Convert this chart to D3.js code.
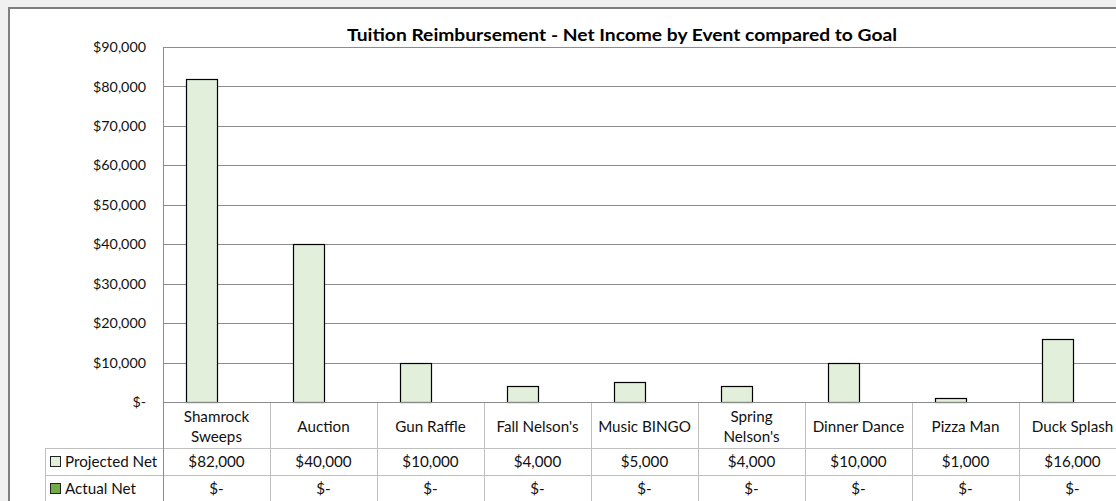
<!DOCTYPE html>
<html><head><meta charset="utf-8">
<script src="https://cdn.jsdelivr.net/npm/d3@7"></script>
<style>html,body{margin:0;padding:0;background:#f0f0f0;overflow:hidden}svg{display:block}</style>
</head><body>
<svg id="c" width="1116" height="501"></svg>
<script>
const title = "Tuition Reimbursement - Net Income by Event compared to Goal";
const categories = ["Shamrock Sweeps","Auction","Gun Raffle","Fall Nelson's","Music BINGO","Spring Nelson's","Dinner Dance","Pizza Man","Duck Splash"];
const categoryLines = [["Shamrock","Sweeps"],["Auction"],["Gun Raffle"],["Fall Nelson's"],["Music BINGO"],["Spring","Nelson's"],["Dinner Dance"],["Pizza Man"],["Duck Splash"]];
const seriesNames = ["Projected Net","Actual Net"];
const projectedNet = [82000,40000,10000,4000,5000,4000,10000,1000,16000];
const actualNet = [0,0,0,0,0,0,0,0,0];
const yTicks = [0,10000,20000,30000,40000,50000,60000,70000,80000,90000];
const colors = {"Projected Net":"#e2efda","Actual Net":"#70ad47"};

const font = "Lato, 'Open Sans', sans-serif";
const svg = d3.select("#c");
const fmt = v => v === 0 ? "$-" : "$" + d3.format(",")(v);

// chart area
svg.append("rect").attr("x",9).attr("y",8).attr("width",1300).attr("height",700)
  .attr("fill","#fff").attr("stroke","#7f7f7f").attr("stroke-width",2);

const L = 163, T = 47, B = 402, R = 1126;
const x = d3.scaleBand().domain(categories).range([L, R]).paddingInner(0).paddingOuter(0);
const xs = d3.scaleBand().domain(seriesNames).range([0, x.bandwidth()]).paddingInner(0).paddingOuter(0.75);
const y = d3.scaleLinear().domain([0, 90000]).range([B, T]);

// gridlines
svg.append("g").selectAll("line").data(yTicks.filter(d=>d>0)).join("line")
  .attr("x1",L).attr("x2",R).attr("y1",d=>Math.round(y(d))+0.5).attr("y2",d=>Math.round(y(d))+0.5)
  .attr("stroke","#8c8c8c").attr("stroke-width",1);

// y axis labels
const yAxis = d3.axisLeft(y).tickValues(yTicks).tickFormat(fmt).tickSize(0).tickPadding(17);
const ga = svg.append("g").attr("transform",`translate(${L},0)`).call(yAxis);
ga.select(".domain").remove();
ga.selectAll("text").attr("font-family",font).attr("font-size",14.3).attr("fill","#111");

// bars
const rows = categories.map((c,i)=>({cat:c, vals:[{s:"Projected Net",v:projectedNet[i]},{s:"Actual Net",v:actualNet[i]}]}));
const gb = svg.append("g").selectAll("g").data(rows).join("g").attr("transform",d=>`translate(${x(d.cat)},0)`);
gb.selectAll("rect").data(d=>d.vals).join("rect")
  .attr("x",d=>Math.round(xs(d.s))+0.5).attr("width",Math.round(xs.bandwidth()))
  .attr("y",d=>Math.round(y(d.v))+0.5).attr("height",d=>Math.max(0,Math.round(B-y(d.v))))
  .attr("fill",d=>colors[d.s]).attr("stroke","#000").attr("stroke-width",1.2);

// table
const tableColor = "#bfbfbf";
const tg = svg.append("g");
tg.append("line").attr("x1",45).attr("x2",R).attr("y1",448.5).attr("y2",448.5).attr("stroke",tableColor);
tg.append("line").attr("x1",45).attr("x2",R).attr("y1",475.5).attr("y2",475.5).attr("stroke",tableColor);
tg.append("line").attr("x1",45.5).attr("x2",45.5).attr("y1",448).attr("y2",510).attr("stroke",tableColor);
tg.selectAll(".v").data(categories.slice(1)).join("line")
  .attr("x1",d=>Math.round(x(d))+0.5).attr("x2",d=>Math.round(x(d))+0.5).attr("y1",B).attr("y2",510).attr("stroke",tableColor);
svg.append("line").attr("x1",L+0.5).attr("x2",L+0.5).attr("y1",T).attr("y2",510).attr("stroke","#8c8c8c");
svg.append("line").attr("x1",L).attr("x2",R).attr("y1",B+0.5).attr("y2",B+0.5).attr("stroke","#8c8c8c");

// category labels
const cl = tg.selectAll(".cl").data(categories).join("text")
  .attr("x",d=>x(d)+x.bandwidth()/2).attr("text-anchor","middle")
  .attr("font-family",font).attr("font-size",15.2).attr("fill","#111");
cl.each(function(d,i){
  const lines = categoryLines[i];
  const t = d3.select(this);
  const cy = 427;
  lines.forEach((ln,j)=>{
    t.append("tspan").attr("x",x(d)+x.bandwidth()/2)
      .attr("y",cy + (j-(lines.length-1)/2)*20).attr("dy","0.35em").text(ln);
  });
});
// values
const valRows = [{name:"Projected Net", vals:projectedNet, cy:462},{name:"Actual Net", vals:actualNet, cy:489}];
valRows.forEach(r=>{
  tg.selectAll(null).data(r.vals).join("text")
    .attr("x",(d,i)=>x(categories[i])+x.bandwidth()/2).attr("y",r.cy).attr("dy","0.35em")
    .attr("text-anchor","middle").attr("font-family",font).attr("font-size",15.2).attr("fill","#111")
    .text(d=>fmt(d));
  tg.append("rect").attr("x",50.5).attr("y",r.cy-5.5).attr("width",10).attr("height",10)
    .attr("fill",colors[r.name]).attr("stroke","#222").attr("stroke-width",1);
  tg.append("text").attr("x",65).attr("y",r.cy).attr("dy","0.35em")
    .attr("font-family",font).attr("font-size",15.2).attr("fill","#111").text(r.name);
});

// title
svg.append("text").attr("x",622).attr("y",41).attr("text-anchor","middle")
  .attr("font-family",font).attr("font-weight","bold").attr("font-size",17.5).attr("fill","#000")
  .attr("textLength",550).attr("lengthAdjust","spacingAndGlyphs").text(title);
</script>
</body></html>
